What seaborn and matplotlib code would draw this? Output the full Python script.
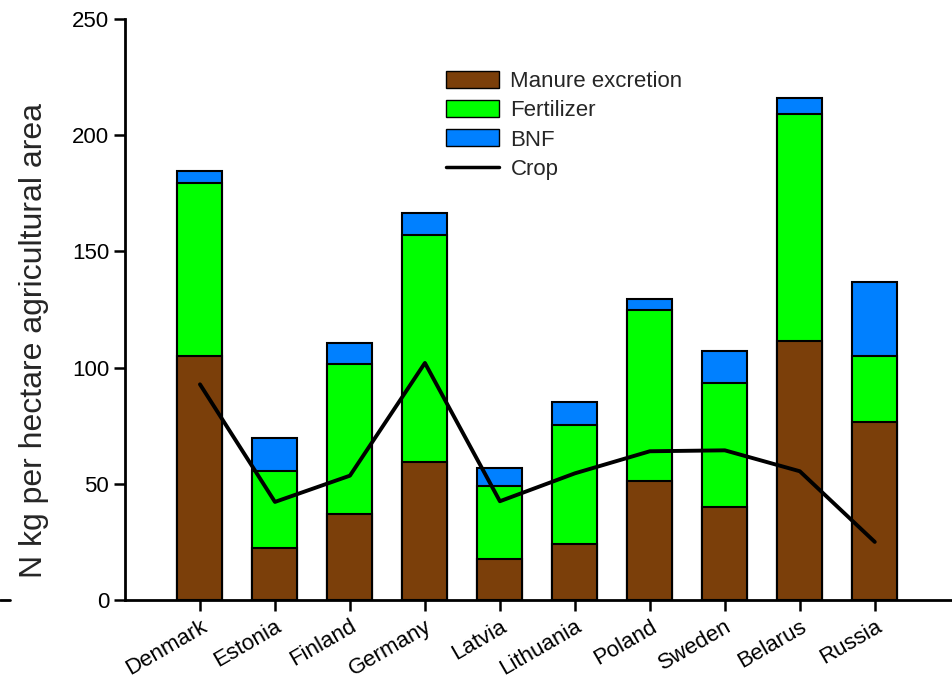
import matplotlib
matplotlib.use("Agg")
import matplotlib.pyplot as plt
from matplotlib.lines import Line2D
from matplotlib.patches import Patch
import numpy as np
import pandas as pd
import seaborn as sns

countries = ["Denmark", "Estonia", "Finland", "Germany", "Latvia",
             "Lithuania", "Poland", "Sweden", "Belarus", "Russia"]
manure = [104.8, 22.3, 37.0, 59.3, 17.6, 24.0, 51.0, 40.0, 111.3, 76.5]
fertilizer = [74.7, 33.1, 64.4, 97.9, 31.4, 51.2, 74.0, 53.2, 97.9, 28.7]
bnf = [5.2, 14.2, 9.0, 9.5, 7.7, 9.8, 4.7, 13.8, 6.8, 31.8]
crop = [92.8, 42.2, 53.5, 102.0, 42.5, 54.5, 64.0, 64.4, 55.4, 25.0]

BROWN = "#7B3F0A"
GREEN = "#00FF00"
BLUE = "#0080FF"

df = pd.DataFrame({"country": countries, "manure": manure,
                   "fertilizer": fertilizer, "bnf": bnf, "crop": crop})
df["lvl2"] = df["manure"] + df["fertilizer"]
df["lvl3"] = df["lvl2"] + df["bnf"]

sns.set_theme(style="white")
plt.rcParams["font.family"] = ["Liberation Sans", "DejaVu Sans"]

fig = plt.figure(figsize=(9.52, 6.79), dpi=100)
ax = fig.add_axes([125 / 952, 79 / 679, 1 - 125 / 952, 581 / 679])

for col, color in [("lvl3", BLUE), ("lvl2", GREEN), ("manure", BROWN)]:
    sns.barplot(data=df, x="country", y=col, color=color, width=0.6,
                edgecolor="black", linewidth=1.5, saturation=1, ax=ax)
sns.lineplot(x=np.arange(len(countries)), y=df["crop"], color="black",
             linewidth=2.8, ax=ax)

ax.set_xlim(-1, 10.03)
ax.set_ylim(0, 250)
ax.set_yticks([0, 50, 100, 150, 200, 250])
ax.set_xlabel("")
ax.set_ylabel("N kg per hectare agricultural area", fontsize=23)
ax.yaxis.set_label_coords(-0.092, 0.447)
for s in ["top", "right"]:
    ax.spines[s].set_visible(False)
for s in ["left", "bottom"]:
    ax.spines[s].set_color("black")
    ax.spines[s].set_linewidth(2)
ax.tick_params(axis="both", direction="out", length=8, width=1.8,
               colors="black", labelsize=16, left=True, bottom=True)
ax.set_xticks(range(len(countries)))
ax.set_xticklabels(countries, rotation=30, ha="right", rotation_mode="anchor")

handles = [Patch(facecolor=BROWN, edgecolor="black", label="Manure excretion"),
           Patch(facecolor=GREEN, edgecolor="black", label="Fertilizer"),
           Patch(facecolor=BLUE, edgecolor="black", label="BNF"),
           Line2D([0], [0], color="black", linewidth=2.5, label="Crop")]
ax.legend(handles=handles, loc="upper left", bbox_to_anchor=(0.364, 0.945),
          frameon=False, fontsize=16, handlelength=2.4, handleheight=0.8,
          labelspacing=0.36, handletextpad=0.5)

fig.add_artist(Line2D([0, 10 / 952], [79 / 679, 79 / 679], color="black",
                      linewidth=2))

fig.savefig("out.png", dpi=100, facecolor="white")
